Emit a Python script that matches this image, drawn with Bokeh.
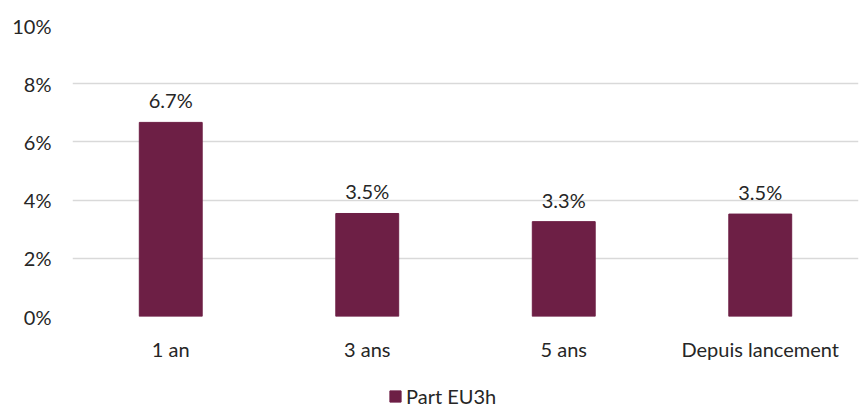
from bokeh.plotting import figure
from bokeh.layouts import column
from bokeh.models import ColumnDataSource, Range1d, Legend, LegendItem, FixedTicker, LabelSet, CustomJSTickFormatter
from bokeh.core.properties import value
from bokeh.embed import file_html
from bokeh.resources import INLINE

categories = ["1 an", "3 ans", "5 ans", "Depuis lancement"]
values = [6.67, 3.54, 3.26, 3.52]
labels = ["6.7%", "3.5%", "3.3%", "3.5%"]
series_name = "Part EU3h"
y_ticks = [0, 2, 4, 6, 8, 10]

FONT = "Lato"
FS = "20px"
COLOR = "#6D1F45"
TXT = "#262626"

src = ColumnDataSource(dict(cat=categories, val=values, lab=labels))

p = figure(x_range=categories, y_range=Range1d(0, 10), width=859, height=375,
           output_backend="svg", toolbar_location=None,
           min_border_left=72, min_border_right=1, min_border_top=25, min_border_bottom=59)
p.outline_line_color = None
p.background_fill_color = "white"
p.border_fill_color = "white"

r = p.vbar(x="cat", top="val", width=0.32, source=src, fill_color=COLOR, line_color=COLOR)

lbl = LabelSet(x="cat", y="val", text="lab", source=src, text_align="center",
               text_baseline="bottom", y_offset=10, text_font=value(FONT), text_font_size=value(FS),
               text_color=value(TXT))
p.add_layout(lbl)

p.yaxis.ticker = FixedTicker(ticks=y_ticks)
p.yaxis.formatter = CustomJSTickFormatter(code="return tick + '%';")
p.yaxis.axis_line_color = None
p.yaxis.major_tick_line_color = None
p.yaxis.minor_tick_line_color = None
p.yaxis.major_label_text_font = FONT
p.yaxis.major_label_text_font_size = FS
p.yaxis.major_label_text_color = TXT
p.yaxis.major_label_standoff = 15

p.xaxis.axis_line_color = None
p.xaxis.major_tick_line_color = None
p.xaxis.major_label_text_font = FONT
p.xaxis.major_label_text_font_size = FS
p.xaxis.major_label_text_color = TXT
p.xaxis.major_label_standoff = 14

p.xgrid.grid_line_color = None
p.ygrid.grid_line_color = "#d9d9d9"
p.ygrid.grid_line_width = 1.5

# legend strip below the chart (its bars lie outside its view; only the legend shows)
p2 = figure(width=859, height=36, output_backend="svg", toolbar_location=None,
            x_range=categories, y_range=Range1d(100, 101),
            min_border_left=0, min_border_right=0, min_border_top=8, min_border_bottom=0)
p2.axis.visible = False
p2.grid.visible = False
p2.outline_line_color = None
r2 = p2.vbar(x="cat", top="val", width=0.32, source=src, fill_color=COLOR, line_color=COLOR)
legend = Legend(items=[LegendItem(label=series_name, renderers=[r2])], location=(316, 3),
                orientation="horizontal", label_text_font=FONT, label_text_font_size=FS,
                label_text_color=TXT, glyph_width=14, glyph_height=14,
                border_line_color=None, background_fill_alpha=0, padding=0, margin=0, label_standoff=4)
p2.add_layout(legend)

layout = column(p, p2, spacing=0)
open("out.html", "w").write(file_html(layout, INLINE))
